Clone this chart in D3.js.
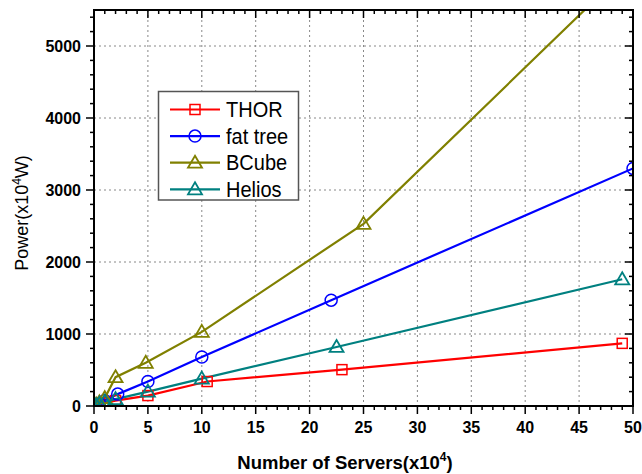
<!DOCTYPE html>
<html><head><meta charset="utf-8">
<script src="https://cdn.jsdelivr.net/npm/d3@7/dist/d3.min.js"></script>
<style>body{margin:0;background:#fff}svg{display:block}</style>
</head><body><svg id="c" width="642" height="474"></svg>
<script>
const seriesNames = ["THOR", "fat tree", "BCube", "Helios"];
const seriesColors = ["#ff0000", "#0000ff", "#808000", "#008080"];
const seriesMarkers = ["square", "circle", "triangle", "triangle"];
const thorX = [0.2, 0.5, 1, 2, 5, 10.5, 23, 49];
const thorY = [10, 25, 45, 75, 145, 340, 505, 870];
const fatX = [0.2, 0.5, 1, 2.2, 5, 10, 22, 50];
const fatY = [15, 35, 75, 165, 340, 680, 1470, 3300];
const bcubeX = [0.2, 0.5, 1, 2, 4.8, 10, 25, 50];
const bcubeY = [20, 50, 110, 400, 600, 1030, 2530, 6150];
const heliosX = [0.2, 0.5, 1, 2, 5, 10, 22.5, 49];
const heliosY = [10, 30, 60, 95, 200, 380, 820, 1760];
const xTicks = [0, 5, 10, 15, 20, 25, 30, 35, 40, 45, 50];
const yTicks = [0, 1000, 2000, 3000, 4000, 5000];

const data = [[thorX, thorY], [fatX, fatY], [bcubeX, bcubeY], [heliosX, heliosY]]
  .map((d, i) => ({name: seriesNames[i], color: seriesColors[i], marker: seriesMarkers[i],
    pts: d[0].map((x, j) => [x, d[1][j]])}));

const L = 94, R = 633, T = 10, B = 406;
const svg = d3.select("#c");
const x = d3.scaleLinear().domain([0, 50]).range([L, R]);
const y = d3.scaleLinear().domain([0, 5500]).range([B, T]);
const font = "'Liberation Sans', Arial, sans-serif";

// grid
const g = svg.append("g");
g.selectAll(".gx").data(xTicks.filter(t => t > 0 && t < 50)).join("line")
  .attr("x1", d => x(d)).attr("x2", d => x(d)).attr("y1", T).attr("y2", B)
  .attr("stroke", "#888").attr("stroke-width", 1).attr("stroke-dasharray", "2,3");
g.selectAll(".gy").data(yTicks.filter(t => t > 0)).join("line")
  .attr("y1", d => y(d)).attr("y2", d => y(d)).attr("x1", L).attr("x2", R)
  .attr("stroke", "#888").attr("stroke-width", 1).attr("stroke-dasharray", "2,3");

// clip
svg.append("clipPath").attr("id", "clip").append("rect")
  .attr("x", L).attr("y", T).attr("width", R - L).attr("height", B - T);

const plot = svg.append("g").attr("clip-path", "url(#clip)");
const line = d3.line().x(d => x(d[0])).y(d => y(d[1]));

function drawMarker(sel, type, color) {
  if (type === "square") {
    sel.append("rect").attr("x", -5).attr("y", -5).attr("width", 10).attr("height", 10)
      .attr("fill", "none").attr("stroke", color).attr("stroke-width", 1.5);
  } else if (type === "circle") {
    sel.append("circle").attr("r", 6).attr("fill", "none").attr("stroke", color).attr("stroke-width", 1.5);
  } else {
    sel.append("path").attr("d", "M0,-7L7,5L-7,5Z").attr("fill", "none").attr("stroke", color).attr("stroke-width", 1.8);
  }
}

data.forEach(s => {
  plot.append("path").datum(s.pts).attr("d", line).attr("fill", "none")
    .attr("stroke", s.color).attr("stroke-width", 2.2);
});
data.forEach(s => {
  s.pts.forEach(p => {
    const m = plot.append("g").attr("transform", `translate(${x(p[0])},${y(p[1])})`);
    drawMarker(m, s.marker, s.color);
  });
});

// axes
const minorX = d3.range(0, 51, 1);
const minorY = d3.range(0, 5501, 200);
const ax = svg.append("g").attr("stroke", "#000");
ax.selectAll(".bt").data(minorX).join("line")
  .attr("x1", d => x(d)).attr("x2", d => x(d)).attr("y1", B)
  .attr("y2", d => B + (d % 5 === 0 ? 8 : 4)).attr("stroke-width", 1.5);
ax.selectAll(".tt").data(minorX).join("line")
  .attr("x1", d => x(d)).attr("x2", d => x(d)).attr("y1", T)
  .attr("y2", d => T + (d % 5 === 0 ? 8 : 4)).attr("stroke-width", 1.5);
ax.selectAll(".lt").data(minorY).join("line")
  .attr("y1", d => y(d)).attr("y2", d => y(d)).attr("x1", L)
  .attr("x2", d => L - (d % 1000 === 0 ? 8 : 4)).attr("stroke-width", 1.5);
ax.selectAll(".rt").data(minorY).join("line")
  .attr("y1", d => y(d)).attr("y2", d => y(d)).attr("x1", R)
  .attr("x2", d => R - (d % 1000 === 0 ? 8 : 4)).attr("stroke-width", 1.5);
svg.append("rect").attr("x", L).attr("y", T).attr("width", R - L).attr("height", B - T)
  .attr("fill", "none").attr("stroke", "#000").attr("stroke-width", 2);

// tick labels
svg.selectAll(".xl").data(xTicks).join("text")
  .attr("x", d => x(d)).attr("y", 433).attr("text-anchor", "middle")
  .attr("font-family", font).attr("font-weight", "bold").attr("font-size", 16).text(d => d);
svg.selectAll(".yl").data(yTicks).join("text")
  .attr("x", 81).attr("y", d => y(d) + 6).attr("text-anchor", "end")
  .attr("font-family", font).attr("font-weight", "bold").attr("font-size", 16).text(d => d);

// axis titles
const xt = svg.append("text").attr("x", 345).attr("y", 469).attr("text-anchor", "middle")
  .attr("font-family", font).attr("font-weight", "bold").attr("font-size", 18.5);
xt.append("tspan").text("Number of Servers(x10");
xt.append("tspan").attr("dy", -8).attr("font-size", 12).text("4");
xt.append("tspan").attr("dy", 8).text(")");

const yt = svg.append("text").attr("transform", "translate(28,213) rotate(-90)").attr("text-anchor", "middle")
  .attr("font-family", font).attr("font-size", 18);
yt.append("tspan").text("Power(x10");
yt.append("tspan").attr("dy", -7).attr("font-size", 12).text("4");
yt.append("tspan").attr("dy", 7).text("W)");

// legend
const lg = svg.append("g");
lg.append("rect").attr("x", 158.5).attr("y", 91.5).attr("width", 140).attr("height", 108.5)
  .attr("fill", "#fff").attr("stroke", "#555").attr("stroke-width", 1.5);
data.forEach((s, i) => {
  const yy = 109.5 + i * 26.6;
  lg.append("line").attr("x1", 170).attr("x2", 220).attr("y1", yy).attr("y2", yy)
    .attr("stroke", s.color).attr("stroke-width", 2.2);
  const m = lg.append("g").attr("transform", `translate(195,${yy})`);
  drawMarker(m, s.marker, s.color);
  lg.append("text").attr("transform", `translate(226,${yy + 7.5}) scale(1,1.1)`)
    .attr("font-family", font).attr("font-size", 20).text(s.name);
});
</script></body></html>
